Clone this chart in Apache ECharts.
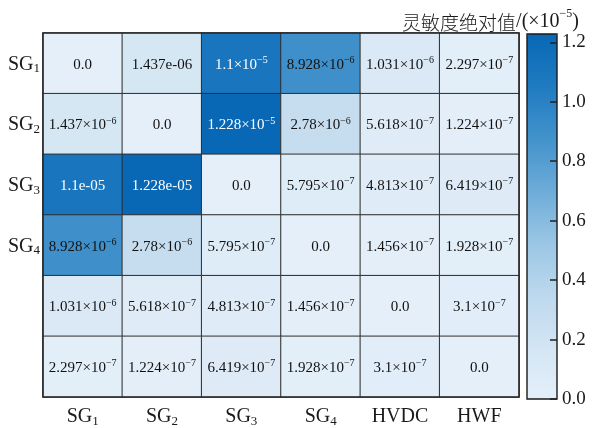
<!DOCTYPE html>
<html><head><meta charset="utf-8">
<script src="https://cdn.jsdelivr.net/npm/echarts@6/dist/echarts.min.js"></script>
<style>html,body{margin:0;padding:0;background:#fff}#c{width:592px;height:428px}</style>
</head><body><div id="c"></div>
<script>
// Axis categories
const columns = ['SG1', 'SG2', 'SG3', 'SG4', 'HVDC', 'HWF'];
const rowNames = ['SG1', 'SG2', 'SG3', 'SG4', '', ''];

// Absolute sensitivity values, one array per row
const rowSG1 = [0, 1.437e-6, 1.1e-5, 8.928e-6, 1.031e-6, 2.297e-7];
const rowSG2 = [1.437e-6, 0, 1.228e-5, 2.78e-6, 5.618e-7, 1.224e-7];
const rowSG3 = [1.1e-5, 1.228e-5, 0, 5.795e-7, 4.813e-7, 6.419e-7];
const rowSG4 = [8.928e-6, 2.78e-6, 5.795e-7, 0, 1.456e-7, 1.928e-7];
const rowHVDC = [1.031e-6, 5.618e-7, 4.813e-7, 1.456e-7, 0, 3.1e-7];
const rowHWF = [2.297e-7, 1.224e-7, 6.419e-7, 1.928e-7, 3.1e-7, 0];

// Text printed in each cell
const textSG1 = ['0.0', '1.437e-06', '1.1×10^-5', '8.928×10^-6', '1.031×10^-6', '2.297×10^-7'];
const textSG2 = ['1.437×10^-6', '0.0', '1.228×10^-5', '2.78×10^-6', '5.618×10^-7', '1.224×10^-7'];
const textSG3 = ['1.1e-05', '1.228e-05', '0.0', '5.795×10^-7', '4.813×10^-7', '6.419×10^-7'];
const textSG4 = ['8.928×10^-6', '2.78×10^-6', '5.795×10^-7', '0.0', '1.456×10^-7', '1.928×10^-7'];
const textHVDC = ['1.031×10^-6', '5.618×10^-7', '4.813×10^-7', '1.456×10^-7', '0.0', '3.1×10^-7'];
const textHWF = ['2.297×10^-7', '1.224×10^-7', '6.419×10^-7', '1.928×10^-7', '3.1×10^-7', '0.0'];

// Colour bar: values shown in units of 1e-5
const colorUnit = 1e-5;
const colorTickStep = 0.2;
const blues = ['#e4eff9', '#d3e5f3', '#bcd8ed', '#9ac6e4', '#6dabd8', '#4292cb', '#1f7bc1', '#0868b5'];

const rows = [rowSG1, rowSG2, rowSG3, rowSG4, rowHVDC, rowHWF];
const texts = [textSG1, textSG2, textSG3, textSG4, textHVDC, textHWF];

const FONT = '"Liberation Serif", "Times New Roman", serif';
const INK = '#1a1a1a';
let maxScaled = 0;
const data = [];
const cellText = [];
rows.forEach((r, ri) => {
  r.forEach((v, ci) => {
    const s = +(v / colorUnit).toPrecision(6);
    maxScaled = Math.max(maxScaled, s);
    data.push([ci, ri, s]);
    cellText.push(texts[ri][ci]);
  });
});

function cellRich(str, dark) {
  const n = dark ? 'nw' : 'n';
  const p = dark ? 'pw' : 'p';
  const i = str.indexOf('^');
  if (i < 0) return '{' + n + '|' + str + '}';
  const base = str.slice(0, i);
  const exp = str.slice(i + 1).replace('-', '−');
  return '{' + n + '|' + base + '}{' + p + '|' + exp + '}';
}

function subLabel(name) {
  const m = /^SG(\d)$/.exec(name);
  if (!m) return name ? '{m|' + name + '}' : '';
  return '{m|SG}{b|' + m[1] + '}';
}

const axisRich = {
  m: { fontFamily: FONT, fontSize: 20, color: INK, lineHeight: 22, verticalAlign: 'bottom' },
  b: { fontFamily: FONT, fontSize: 13, color: INK, lineHeight: 15, verticalAlign: 'bottom', padding: [0, 0, -1, 0] }
};

const chart = echarts.init(document.getElementById('c'), null, { renderer: 'canvas' });
chart.setOption({
  animation: false,
  backgroundColor: '#fff',
  title: {
    right: 8, top: 3,
    text: '{c|灵敏度绝对值}{a|/(×10}{s|−5}{a|)}',
    textStyle: {
      fontWeight: 'normal',
      rich: {
        c: { fontFamily: '"Noto Sans CJK SC"', fontWeight: 300, fontSize: 19, color: INK, lineHeight: 24, verticalAlign: 'bottom' },
        a: { fontFamily: FONT, fontWeight: 'normal', fontSize: 20, color: INK, lineHeight: 24, verticalAlign: 'bottom' },
        s: { fontFamily: FONT, fontWeight: 'normal', fontSize: 12, color: INK, lineHeight: 24, verticalAlign: 'top' }
      }
    }
  },
  grid: [
    { left: 43, top: 33, width: 476, height: 365, show: true, borderColor: '#2a2a2a', borderWidth: 1.6, backgroundColor: 'transparent', z: 5 },
    { left: 527, top: 34, width: 30, height: 365, show: true, borderColor: INK, borderWidth: 1.4, backgroundColor: 'transparent', z: 10 }
  ],
  xAxis: [
    {
      type: 'category', data: columns, gridIndex: 0,
      axisLine: { show: false }, axisTick: { show: false }, splitArea: { show: false },
      axisLabel: { interval: 0, margin: 8, formatter: subLabel, rich: axisRich }
    },
    { type: 'value', gridIndex: 1, show: false, min: 0, max: 1 }
  ],
  yAxis: [
    {
      type: 'category', data: rowNames, gridIndex: 0, inverse: true,
      axisLine: { show: false }, axisTick: { show: false },
      axisLabel: { interval: 0, margin: 3, formatter: subLabel, rich: axisRich }
    },
    {
      type: 'value', gridIndex: 1, position: 'right', min: 0, max: maxScaled, interval: colorTickStep,
      z: 20,
      splitLine: { show: false },
      axisLine: { show: false, onZero: false },
      axisTick: { show: true, inside: true, length: 7, lineStyle: { color: '#222', width: 1.5 } },
      axisLabel: {
        margin: 5, showMaxLabel: false, fontFamily: FONT, fontSize: 19, color: INK,
        formatter: v => v.toFixed(1)
      }
    }
  ],
  visualMap: {
    type: 'continuous', seriesIndex: 0, min: 0, max: maxScaled,
    left: 527, top: 34, itemWidth: 30, itemHeight: 365, padding: 0,
    calculable: false, hoverLink: false, text: null, show: true, z: 2,
    textStyle: { color: 'transparent' },
    inRange: { color: blues }
  },
  series: [
    {
      type: 'heatmap', xAxisIndex: 0, yAxisIndex: 0, data: data,
      itemStyle: { borderColor: '#2e2e2e', borderWidth: 1 },
      emphasis: { disabled: true },
      label: {
        show: true,
        formatter: p => cellRich(cellText[p.dataIndex], p.value[2] >= 1.0),
        rich: {
          n: { fontFamily: FONT, fontSize: 15, color: '#111', lineHeight: 18, verticalAlign: 'bottom' },
          p: { fontFamily: FONT, fontSize: 10, color: '#111', lineHeight: 18, verticalAlign: 'top', padding: [1, 0, 0, 0] },
          nw: { fontFamily: FONT, fontSize: 15, color: '#fff', lineHeight: 18, verticalAlign: 'bottom' },
          pw: { fontFamily: FONT, fontSize: 10, color: '#fff', lineHeight: 18, verticalAlign: 'top', padding: [1, 0, 0, 0] }
        }
      }
    }
  ]
});
</script>
</body></html>
